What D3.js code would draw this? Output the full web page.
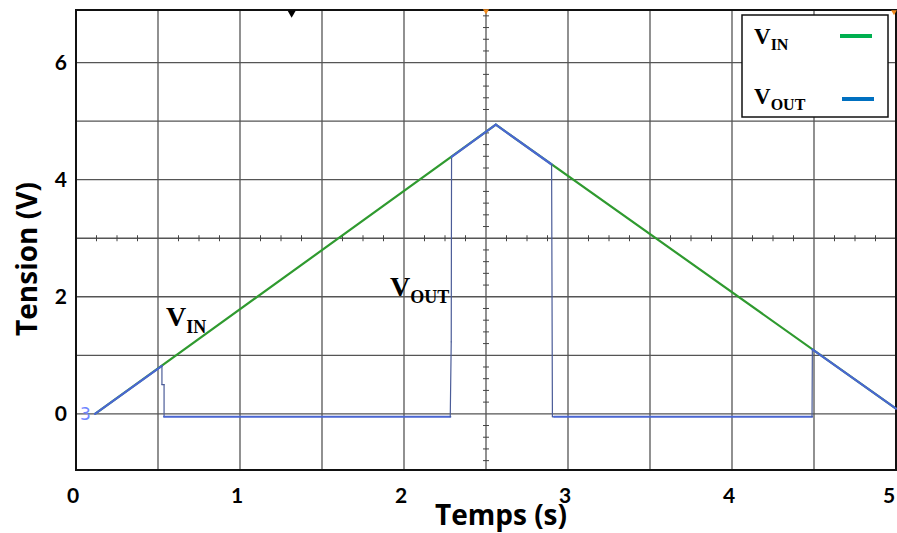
<!DOCTYPE html>
<meta charset="utf-8">
<style>
  body { margin: 0; background: #fff; }
  .grid line { stroke: #555; stroke-width: 1.3px; }
  .minor line { stroke: #444; stroke-width: 1px; }
  .tick-label { font-family: Lato, "Open Sans", sans-serif; font-weight: bold; font-size: 21px; fill: #000; }
  .axis-title { font-family: "Open Sans", Lato, sans-serif; font-weight: bold; font-size: 28px; fill: #000; }
  .sig { font-family: "Liberation Serif", "Times New Roman", serif; font-weight: bold; fill: #000; }
</style>
<body>
<script src="https://d3js.org/d3.v7.min.js"></script>
<script>

// tick labels
var xTicks = [0, 1, 2, 3, 4, 5];
var yTicks = [0, 2, 4, 6];

// V_IN : triangle ramp (time s, tension V)
var vinT = [0.116, 2.56, 5.0];
var vinV = [0.0, 4.94, 0.09];

// V_OUT : follows V_IN, drops to ~0 between thresholds
var voutT = [0.116, 0.524, 0.524, 0.537, 0.537, 2.282, 2.288, 2.29, 2.56, 2.90, 2.905, 2.915, 4.488, 4.49, 5.0];
var voutV = [0.0, 0.82, 0.5, 0.5, -0.05, -0.05, 1.23, 4.39, 4.94, 4.26, -0.05, -0.05, -0.05, 1.10, 0.09];

var W = 897, H = 533;

var x = d3.scaleLinear().domain([0, 5]).range([76, 896]);
var y = d3.scaleLinear().domain([-0.96, 6.9]).range([470, 10]);

var svg = d3.select("body").append("svg")
    .attr("width", W)
    .attr("height", H);

// grid : every half second, every volt
var grid = svg.append("g").attr("class", "grid");
grid.selectAll(".gx")
    .data(d3.range(0.5, 5, 0.5))
  .enter().append("line")
    .attr("x1", function(d) { return x(d); })
    .attr("x2", function(d) { return x(d); })
    .attr("y1", y(6.9))
    .attr("y2", y(-0.96));
grid.selectAll(".gy")
    .data(d3.range(0, 7, 1))
  .enter().append("line")
    .attr("x1", x(0))
    .attr("x2", x(5))
    .attr("y1", function(d) { return y(d); })
    .attr("y2", function(d) { return y(d); });

// minor ticks on the centre axes
var minor = svg.append("g").attr("class", "minor");
minor.selectAll(".mx")
    .data(d3.range(0.125, 5, 0.125).filter(function(d) { return Math.abs(d * 2 - Math.round(d * 2)) > 0.01; }))
  .enter().append("line")
    .attr("x1", function(d) { return x(d); })
    .attr("x2", function(d) { return x(d); })
    .attr("y1", y(3) - 3)
    .attr("y2", y(3) + 3);
minor.selectAll(".my")
    .data(d3.range(-0.8, 6.9, 0.2).filter(function(d) { return Math.abs(d - Math.round(d)) > 0.01; }))
  .enter().append("line")
    .attr("x1", x(2.5) - 3)
    .attr("x2", x(2.5) + 3)
    .attr("y1", function(d) { return y(d); })
    .attr("y2", function(d) { return y(d); });

// plot frame
svg.append("rect")
    .attr("x", x(0))
    .attr("y", y(6.9))
    .attr("width", x(5) - x(0))
    .attr("height", y(-0.96) - y(6.9))
    .attr("fill", "none")
    .attr("stroke", "#111")
    .attr("stroke-width", 2);

// V_IN trace
var vin = vinT.map(function(t, i) { return [t, vinV[i]]; });
var line = d3.line()
    .x(function(d) { return x(d[0]); })
    .y(function(d) { return y(d[1]); });

svg.append("path")
    .datum(vin)
    .attr("fill", "none")
    .attr("stroke", "#2f9a2f")
    .attr("stroke-width", 2.2)
    .attr("d", line);

// V_OUT trace: thin for the vertical jumps, thicker elsewhere
var vout = voutT.map(function(t, i) { return [t, voutV[i]]; });
var segs = d3.pairs(vout);
svg.append("g").selectAll("line")
    .data(segs)
  .enter().append("line")
    .attr("x1", function(d) { return x(d[0][0]); })
    .attr("y1", function(d) { return y(d[0][1]); })
    .attr("x2", function(d) { return x(d[1][0]); })
    .attr("y2", function(d) { return y(d[1][1]); })
    .attr("stroke", function(d) {
      var steep = Math.abs(d[1][0] - d[0][0]) < 0.02;
      return steep ? "#4b5c98" : "#4a66d2";
    })
    .attr("stroke-width", function(d) {
      var steep = Math.abs(d[1][0] - d[0][0]) < 0.02;
      return steep ? 1.2 : 2.2;
    })
    .attr("stroke-linecap", "round");

// channel marker
svg.append("text")
    .attr("x", x(0) + 4)
    .attr("y", y(0) + 6)
    .attr("font-family", "DejaVu Sans, sans-serif")
    .attr("font-size", 17)
    .attr("fill", "#6f86ff")
    .text("3");

// top markers
svg.append("path")
    .attr("d", d3.symbol().type(d3.symbolTriangle).size(30)())
    .attr("transform", "translate(" + x(1.315) + "," + (y(6.9) + 3) + ") rotate(180)")
    .attr("fill", "#000");
svg.append("path")
    .attr("d", d3.symbol().type(d3.symbolTriangle).size(16)())
    .attr("transform", "translate(" + x(2.5) + "," + (y(6.9) + 1) + ") rotate(180)")
    .attr("fill", "#f08a1c");
svg.append("path")
    .attr("d", d3.symbol().type(d3.symbolTriangle).size(14)())
    .attr("transform", "translate(" + (x(5) - 2) + "," + (y(6.9) + 2) + ") rotate(180)")
    .attr("fill", "#f08a1c");

// tick labels
svg.selectAll(".xl")
    .data(xTicks)
  .enter().append("text")
    .attr("class", "tick-label")
    .attr("x", function(d) { return Math.min(x(d) - 3, 889); })
    .attr("y", 503)
    .attr("text-anchor", "middle")
    .text(function(d) { return d; });
svg.selectAll(".yl")
    .data(yTicks)
  .enter().append("text")
    .attr("class", "tick-label")
    .attr("x", 67)
    .attr("y", function(d) { return y(d) + 7; })
    .attr("text-anchor", "end")
    .text(function(d) { return d; });

// axis titles
svg.append("text")
    .attr("class", "axis-title")
    .attr("x", 501)
    .attr("y", 525)
    .attr("text-anchor", "middle")
    .text("Temps (s)");
svg.append("text")
    .attr("class", "axis-title")
    .attr("transform", "translate(37,259) rotate(-90)")
    .attr("text-anchor", "middle")
    .text("Tension (V)");

// signal label helper: V + subscript
function sigLabel(g, px, py, sub, big, small) {
  var t = g.append("text")
      .attr("class", "sig")
      .attr("x", px)
      .attr("y", py);
  t.append("tspan").attr("font-size", big).text("V");
  t.append("tspan").attr("font-size", small).attr("dy", small * 0.4).text(sub);
}

// in-plot annotations
sigLabel(svg, 166, 326, "IN", 28, 18);
sigLabel(svg, 390, 296, "OUT", 28, 18);

// legend
var lg = svg.append("g");
lg.append("rect")
    .attr("x", 742)
    .attr("y", 15)
    .attr("width", 146)
    .attr("height", 102)
    .attr("fill", "#fff")
    .attr("stroke", "#111")
    .attr("stroke-width", 1.5);
sigLabel(lg, 754, 44, "IN", 23, 16);
sigLabel(lg, 754, 104, "OUT", 23, 16);
lg.append("line")
    .attr("x1", 840).attr("x2", 872)
    .attr("y1", 36).attr("y2", 36)
    .attr("stroke", "#00b050")
    .attr("stroke-width", 4);
lg.append("line")
    .attr("x1", 842).attr("x2", 874)
    .attr("y1", 99).attr("y2", 99)
    .attr("stroke", "#0070c0")
    .attr("stroke-width", 4);

</script>
</body>
